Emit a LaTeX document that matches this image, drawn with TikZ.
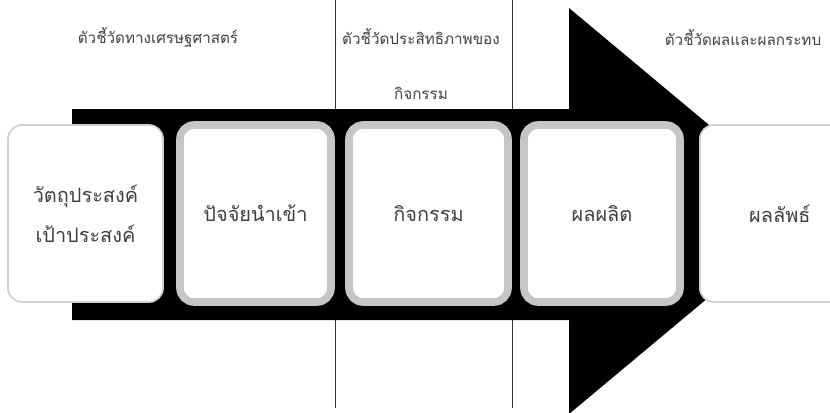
\documentclass[tikz,border=0pt]{standalone}
\usepackage{fontspec}
\newfontfamily\thaifont[Script=Thai]{Loma}

\begin{document}
\begin{tikzpicture}[x=0.03cm, y=-0.03cm,
    font=\thaifont\fontsize{17}{34}\selectfont,
    stage/.style={rectangle, rounded corners=12pt, fill=white, draw=gray!45,
      line width=6.5pt, minimum height=177*0.03cm, text=black!75, align=center},
    endstage/.style={stage, draw=gray!35, line width=1.5pt},
    label/.style={text=black!75, align=center, font=\thaifont\fontsize{13}{47}\selectfont}]
  % 1px = 0.03cm, y runs downwards
  \useasboundingbox (0,0) rectangle (830,412);
  % Column dividers.
  \draw[black!80] (335,0) -- (335,408);
  \draw[black!80] (512,0) -- (512,408);
  % Big arrow behind the stages.
  \fill[black] (72,109) -- (569,109) -- (569,8) -- (812,211)
    -- (569,414) -- (569,320) -- (72,320) -- cycle;
  % Stages.
  \node[endstage, minimum width=155*0.03cm] (goal)     at (85.5,213.5) {วัตถุประสงค์\\เป้าประสงค์};
  \node[stage,    minimum width=151*0.03cm] (input)    at (255.5,213.5) {ปัจจัยนำเข้า};
  \node[stage,    minimum width=159*0.03cm] (activity) at (428.5,213.5) {กิจกรรม};
  \node[stage,    minimum width=156*0.03cm] (output)   at (602,213.5)   {ผลผลิต};
  \node[endstage, minimum width=160*0.03cm, anchor=west] (outcome) at (699,213.5) {ผลลัพธ์};
  % Indicator headings.
  \node[label] (economy)    at (158,37)  {ตัวชี้วัดทางเศรษฐศาสตร์};
  \node[label] (efficiency) at (421,64)  {ตัวชี้วัดประสิทธิภาพของ\\กิจกรรม};
  \node[label] (effect)     at (743,37)  {ตัวชี้วัดผลและผลกระทบ};
\end{tikzpicture}
\end{document}
